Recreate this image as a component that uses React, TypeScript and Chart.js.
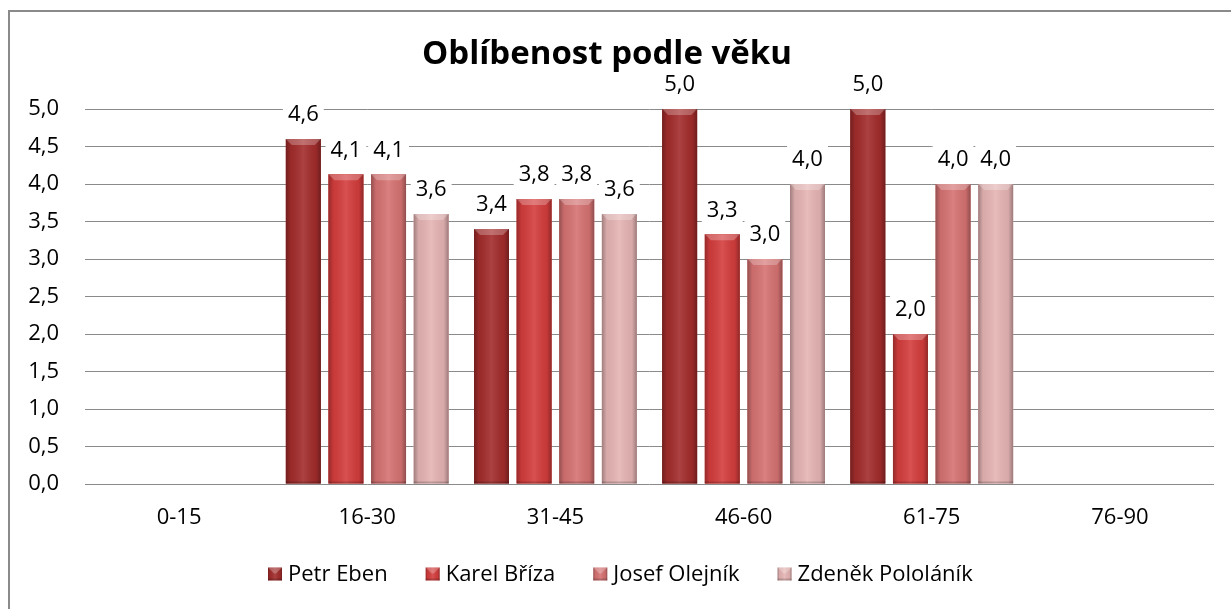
import React, { useEffect, useRef } from "react";
import { Chart, registerables } from "chart.js";

Chart.register(...registerables);

const categories = ["0-15", "16-30", "31-45", "46-60", "61-75", "76-90"];
const seriesNames = ["Petr Eben", "Karel Bříza", "Josef Olejník", "Zdeněk Pololáník"];
const petrEben = [null, 4.6, 3.4, 5.0, 5.0, null];
const karelBriza = [null, 4.13, 3.8, 3.33, 2.0, null];
const josefOlejnik = [null, 4.13, 3.8, 3.0, 4.0, null];
const zdenekPololanik = [null, 3.6, 3.6, 4.0, 4.0, null];
const seriesColors = ["#a32c2c", "#d43d3d", "#d67272", "#e6b4b4"];
const yTicks = [0, 0.5, 1, 1.5, 2, 2.5, 3, 3.5, 4, 4.5, 5];

const FONT = "'Open Sans', 'DejaVu Sans', sans-serif";
const fmt = (v: number) => v.toFixed(1).replace(".", ",");

function drawBevel(ctx: CanvasRenderingContext2D, left: number, top: number, w: number, h: number, color: string) {
  ctx.save();
  ctx.fillStyle = color;
  ctx.fillRect(left, top, w, h);
  const g = ctx.createLinearGradient(left, 0, left + w, 0);
  g.addColorStop(0, "rgba(0,0,0,0.30)");
  g.addColorStop(0.14, "rgba(0,0,0,0.06)");
  g.addColorStop(0.5, "rgba(255,255,255,0.10)");
  g.addColorStop(0.86, "rgba(0,0,0,0.06)");
  g.addColorStop(1, "rgba(0,0,0,0.32)");
  ctx.fillStyle = g;
  ctx.fillRect(left, top, w, h);
  const b = Math.min(6, h / 2, w / 2);
  ctx.beginPath();
  ctx.moveTo(left, top);
  ctx.lineTo(left + w, top);
  ctx.lineTo(left + w - b, top + b);
  ctx.lineTo(left + b, top + b);
  ctx.closePath();
  ctx.fillStyle = "rgba(255,255,255,0.25)";
  ctx.fill();
  ctx.fillStyle = "rgba(0,0,0,0.18)";
  ctx.fillRect(left, top + h - 2, w, 2);
  ctx.restore();
}

const bevelPlugin = {
  id: "bevel",
  afterDatasetsDraw(chart: any) {
    const ctx = chart.ctx;
    chart.data.datasets.forEach((ds: any, di: number) => {
      const meta = chart.getDatasetMeta(di);
      meta.data.forEach((el: any, i: number) => {
        const v = ds.data[i];
        if (v === null || v === undefined) return;
        const left = el.x - el.width / 2;
        const top = Math.min(el.y, el.base);
        const h = Math.abs(el.base - el.y);
        drawBevel(ctx, left, top, el.width, h, seriesColors[di]);
      });
    });
    // data labels
    ctx.save();
    ctx.font = `22px ${FONT}`;
    ctx.textAlign = "center";
    ctx.textBaseline = "middle";
    chart.data.datasets.forEach((ds: any, di: number) => {
      const meta = chart.getDatasetMeta(di);
      meta.data.forEach((el: any, i: number) => {
        const v = ds.data[i];
        if (v === null || v === undefined) return;
        const txt = fmt(v);
        const tw = ctx.measureText(txt).width;
        const cy = el.y - 25;
        ctx.fillStyle = "#ffffff";
        ctx.fillRect(el.x - tw / 2 - 5, cy - 14, tw + 10, 28);
        ctx.fillStyle = "#000000";
        ctx.fillText(txt, el.x, cy + 1);
      });
    });
    ctx.restore();
  },
  afterDraw(chart: any) {
    const ctx = chart.ctx;
    ctx.save();
    ctx.font = `22px ${FONT}`;
    ctx.textBaseline = "middle";
    ctx.textAlign = "left";
    const mw = 14, mh = 13, gapText = 6, gapItem = 38;
    const widths = seriesNames.map((n) => ctx.measureText(n).width);
    let x = 268;
    const cy = 574;
    seriesNames.forEach((n, i) => {
      drawBevel(ctx, x, cy - mh / 2, mw, mh, seriesColors[i]);
      ctx.fillStyle = "#000";
      ctx.fillText(n, x + mw + gapText, cy + 1);
      x += mw + gapText + widths[i] + gapItem;
    });
    ctx.restore();
  },
};

export default function App() {
  const ref = useRef<HTMLCanvasElement>(null);
  useEffect(() => {
    if (!ref.current) return;
    const allSeries = [petrEben, karelBriza, josefOlejnik, zdenekPololanik];
    const chart = new Chart(ref.current, {
      type: "bar",
      data: {
        labels: categories,
        datasets: allSeries.map((d, i) => ({
          label: seriesNames[i],
          data: d,
          backgroundColor: seriesColors[i],
          borderWidth: 0,
          barPercentage: 0.82,
          categoryPercentage: 0.906,
        })),
      },
      options: {
        responsive: false,
        animation: false,
        events: [],
        layout: { padding: { left: 0, right: 17, top: 0, bottom: 0 } },
        plugins: {
          legend: { display: false },
          tooltip: { enabled: false },
          title: {
            display: true,
            text: "Oblíbenost podle věku",
            color: "#000",
            font: { family: FONT, size: 33, weight: "bold", lineHeight: 1.2 },
            padding: { top: 35, bottom: 34.4 },
          },
        },
        scales: {
          x: {
            grid: { display: false, drawTicks: false },
            border: { display: false },
            ticks: { color: "#000", font: { family: FONT, size: 22 }, padding: 21 },
            afterFit: (axis: any) => {
              axis.height = 125;
            },
          },
          y: {
            min: 0,
            max: 5,
            afterBuildTicks: (axis: any) => {
              axis.ticks = yTicks.map((v) => ({ value: v }));
            },
            grid: { color: "#8a8a8a", lineWidth: 1, drawTicks: false },
            border: { display: false },
            ticks: {
              color: "#000",
              font: { family: FONT, size: 22 },
              padding: 26,
              callback: (v: any) => fmt(Number(v)),
            },
            afterFit: (axis: any) => {
              axis.width = 85;
            },
          },
        },
      },
      plugins: [bevelPlugin],
    });
    return () => chart.destroy();
  }, []);
  return (
    <div style={{ position: "fixed", left: 0, top: 0, width: 1231, height: 609, overflow: "hidden", background: "#fff" }}>
      <div
        style={{
          position: "absolute",
          left: 8,
          top: 10,
          width: 1300,
          height: 700,
          border: "2px solid #8a8a8a",
          boxSizing: "border-box",
        }}
      />
      <canvas ref={ref} width={1231} height={609} style={{ position: "absolute", left: 0, top: 0 }} />
    </div>
  );
}
